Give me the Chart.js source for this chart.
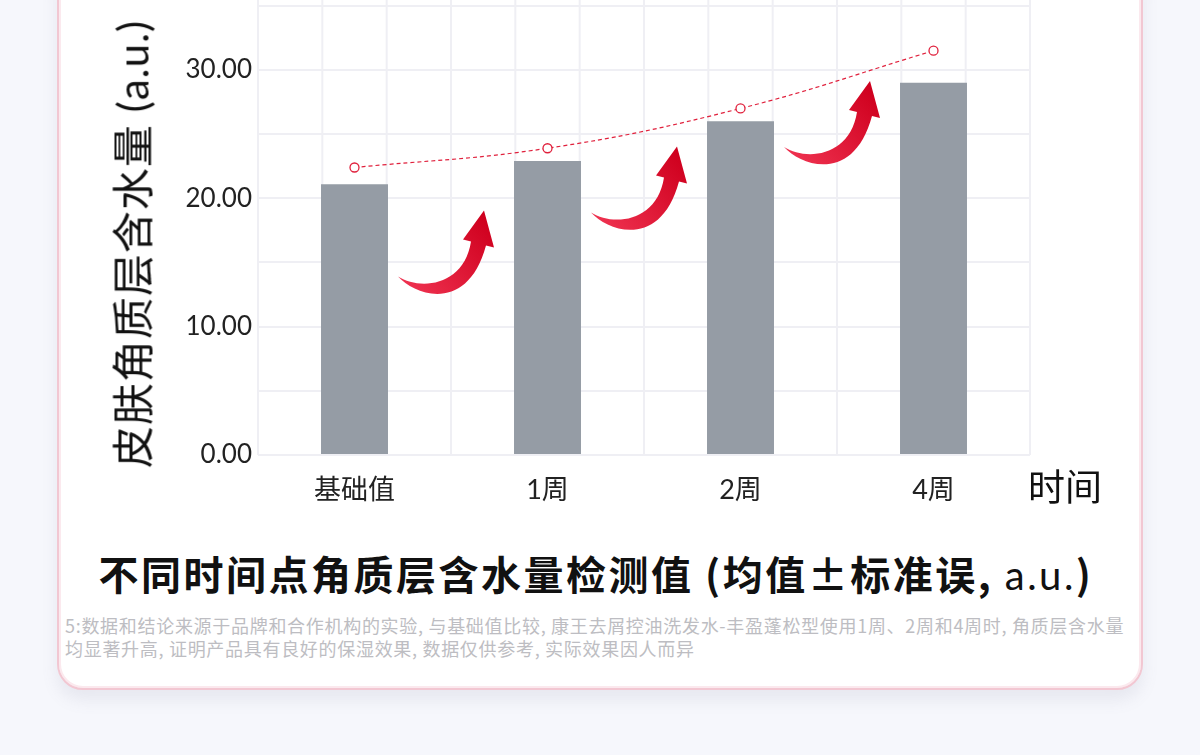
<!DOCTYPE html>
<html>
<head>
<meta charset="utf-8">
<title>角质层含水量</title>
<script src="https://cdn.jsdelivr.net/npm/chart.js@4.4.1/dist/chart.umd.min.js"></script>
<style>
    html, body {
        margin: 0;
        padding: 0;
        width: 1200px;
        height: 755px;
        overflow: hidden;
        background: #f6f7fc;
        font-family: 'Noto Sans CJK SC', sans-serif;
    }
    .card {
        position: absolute;
        left: 57px;
        top: -40px;
        width: 1082px;
        height: 726px;
        background: #fff;
        border: 2px solid #f2c7d2;
        border-radius: 26px;
        box-shadow: inset 0 0 0 2px #fbe9ee, 0 10px 16px rgba(120, 125, 150, 0.12);
    }
    .chart-box {
        position: absolute;
        left: 0;
        top: 0;
        width: 1200px;
        height: 530px;
    }
    .y-title {
        position: absolute;
        left: 130px;
        top: 244px;
        transform: translate(-50%, -50%) rotate(-90deg);
        white-space: nowrap;
        font-size: 42px;
        color: #111;
        letter-spacing: 1px;
    }
    .y-title span { font-family: Lato, 'Noto Sans CJK SC', sans-serif; }
    .x-title {
        position: absolute;
        left: 1028px;
        top: 458px;
        font-size: 37px;
        color: #111;
    }
    .title {
        position: absolute;
        left: 0;
        width: 1192px;
        top: 544px;
        text-align: center;
        font-size: 40px;
        font-weight: bold;
        color: #111;
        letter-spacing: 2.5px;
    }
    .title span { font-family: Lato, 'Noto Sans CJK SC', sans-serif; font-weight: normal; }
    .note {
        position: absolute;
        left: 65px;
        top: 614px;
        font-size: 18px;
        line-height: 23px;
        color: #bdbdc2;
        white-space: nowrap;
        letter-spacing: 0.7px;
    }
</style>
</head>
<body>
<div class="card"></div>
<div class="chart-box"><canvas id="moistureChart" width="1200" height="530"></canvas></div>
<div class="y-title">皮肤角质层含水量<span> (a.u.)</span></div>
<div class="x-title">时间</div>
<div class="title">不同时间点角质层含水量检测值 (均值±标准误, <span>a.u.</span>)</div>
<div class="note">5:数据和结论来源于品牌和合作机构的实验, 与基础值比较, 康王去屑控油洗发水-丰盈蓬松型使用1周、2周和4周时, 角质层含水量<br>均显著升高, 证明产品具有良好的保湿效果, 数据仅供参考, 实际效果因人而异</div>

<script>
    const categories = ['基础值', '1周', '2周', '4周'];
    const moisture = [21.1, 22.9, 26.0, 29.0];
    const trend = [22.4, 23.9, 27.0, 31.5];
    const yTicks = [0, 10, 20, 30];
    // levels (in a.u.) where the curved arrows start
    const arrowLevels = [13.9, 18.9, 24.0];

    const RED = '#e0203c';
    const GRID = '#efeff4';

    // curved red arrows between bars
    const arrowPlugin = {
        id: 'arrows',
        afterDatasetsDraw(chart) {
            const ctx = chart.ctx;
            const x = chart.scales.x, y = chart.scales.y;
            for (let i = 0; i < arrowLevels.length; i++) {
                const ox = (x.getPixelForValue(i) + x.getPixelForValue(i + 1)) / 2 - 53;
                const oy = y.getPixelForValue(arrowLevels[i]);
                ctx.save();
                ctx.translate(ox, oy);
                const g = ctx.createLinearGradient(0, 10, 86, -60);
                g.addColorStop(0, '#f03452');
                g.addColorStop(1, '#cf001e');
                ctx.fillStyle = g;
                ctx.beginPath();
                ctx.moveTo(0, 0);
                ctx.bezierCurveTo(18, 20, 70, 36, 88, -31);
                ctx.lineTo(96, -29);
                ctx.lineTo(86, -66);
                ctx.lineTo(65, -37);
                ctx.lineTo(73, -35);
                ctx.bezierCurveTo(66, 10, 22, 14, 0, 0);
                ctx.closePath();
                ctx.fill();
                ctx.restore();
            }
        }
    };

    new Chart(document.getElementById('moistureChart'), {
        data: {
            labels: categories,
            datasets: [{
                type: 'line',
                data: trend,
                order: 0,
                borderColor: RED,
                borderWidth: 1.2,
                borderDash: [4, 3],
                tension: 0.4,
                pointRadius: 4.5,
                pointBorderWidth: 1.3,
                pointBackgroundColor: '#fff',
                pointBorderColor: RED
            }, {
                type: 'bar',
                data: moisture,
                order: 1,
                backgroundColor: '#959ca5',
                categoryPercentage: 1,
                barPercentage: 0.347
            }]
        },
        options: {
            responsive: false,
            animation: false,
            layout: { padding: { left: 0, right: 170, top: 4, bottom: 0 } },
            plugins: { legend: { display: false }, tooltip: { enabled: false } },
            scales: {
                x: {
                    grid: { display: false, drawTicks: false },
                    border: { display: false },
                    ticks: {
                        padding: 19,
                        color: '#222',
                        font: { family: "Lato, 'Noto Sans CJK SC'", size: 27 }
                    },
                    afterFit(scale) { scale.height = 75; }
                },
                y: {
                    min: 0,
                    max: 35,
                    grid: { color: GRID, lineWidth: 2, drawTicks: false },
                    border: { display: false },
                    ticks: {
                        stepSize: 5,
                        padding: 6,
                        color: '#222',
                        font: { family: "Lato, 'Noto Sans CJK SC'", size: 26 },
                        callback: v => yTicks.includes(v) ? v.toFixed(2) : ''
                    },
                    afterFit(scale) { scale.width = 258; scale.paddingTop = 0; }
                }
            }
        },
        plugins: [arrowPlugin, {
            // vertical lines of the background grid
            id: 'vgrid',
            beforeDatasetsDraw(chart) {
                const ctx = chart.ctx, x = chart.scales.x, a = chart.chartArea;
                ctx.save();
                ctx.strokeStyle = GRID;
                ctx.lineWidth = 2;
                const step = (x.getPixelForValue(1) - x.getPixelForValue(0)) / 3;
                for (let px = a.left; px <= a.right + 1; px += step) {
                    ctx.beginPath();
                    ctx.moveTo(px, 0);
                    ctx.lineTo(px, a.bottom);
                    ctx.stroke();
                }
                ctx.restore();
            }
        }]
    });
</script>
</body>
</html>
